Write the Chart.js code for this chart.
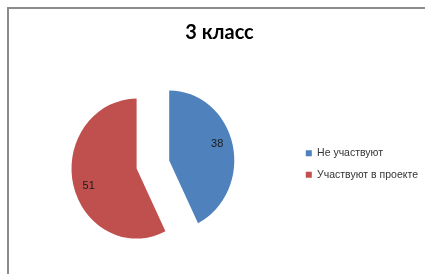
<!DOCTYPE html>
<html>
<head>
<meta charset="utf-8">
<script src="https://cdn.jsdelivr.net/npm/chart.js@4/dist/chart.umd.min.js"></script>
<style>
  html, body { margin: 0; padding: 0; background: #fff; }
  #wrap { position: relative; width: 425px; height: 274px; overflow: hidden; }
  #frame { position: absolute; left: 7px; top: 7px; width: 430px; height: 280px;
           border-left: 2px solid #8c8c8c; border-top: 2px solid #8c8c8c; box-sizing: border-box; }
  canvas { position: absolute; left: 0; top: 0; }
</style>
</head>
<body>
<div id="wrap">
  <div id="frame"></div>
  <canvas id="c" width="425" height="274"></canvas>
</div>
<script>
const titleText = "3 класс";
const categories = ["Не участвуют", "Участвуют в проекте"];
const values = [38, 51];
const colors = ["#4F81BD", "#C0504D"];

const SX = 0.93;      // horizontal squeeze of the pie, as in the reference
const EXPLODE = 18;   // pixel distance each slice is pulled out

// Pull every slice outward along its mid-angle (pure translation, radius unchanged)
const explodePlugin = {
  id: 'explode',
  beforeDatasetsDraw(chart) {
    chart.getDatasetMeta(0).data.forEach(arc => {
      if (arc._exploded) return;
      const orig = arc.draw;
      arc.draw = function (ctx, area) {
        const mid = (this.startAngle + this.endAngle) / 2;
        ctx.save();
        ctx.translate(this.x, 0);
        ctx.scale(SX, 1);
        ctx.translate(-this.x, 0);
        ctx.translate(Math.cos(mid) * EXPLODE, Math.sin(mid) * EXPLODE);
        orig.call(this, ctx, area);
        ctx.restore();
      };
      arc._exploded = true;
    });
  }
};

const labelPlugin = {
  id: 'sliceLabels',
  afterDatasetsDraw(chart) {
    const ctx = chart.ctx;
    const meta = chart.getDatasetMeta(0);
    ctx.save();
    ctx.font = '11px "Liberation Sans", Arial, sans-serif';
    ctx.fillStyle = '#1a1a1a';
    ctx.textAlign = 'center';
    ctx.textBaseline = 'middle';
    meta.data.forEach((arc, i) => {
      const mid = (arc.startAngle + arc.endAngle) / 2;
      const ox = arc.x + Math.cos(mid) * EXPLODE * SX;
      const oy = arc.y + Math.sin(mid) * EXPLODE;
      const la = mid - 5 * Math.PI / 180;
      const r = 0.775 * arc.outerRadius;
      ctx.fillText(String(values[i]), ox + Math.cos(la) * r * SX, oy + Math.sin(la) * r);
    });
    ctx.restore();
  }
};

new Chart(document.getElementById('c'), {
  type: 'pie',
  data: {
    labels: categories,
    datasets: [{
      data: values,
      backgroundColor: colors,
      borderWidth: 0,
      radius: 70
    }]
  },
  options: {
    responsive: false,
    animation: false,
    layout: { padding: { left: 11, right: -3, top: 0, bottom: 0 } },
    plugins: {
      title: {
        display: true,
        text: titleText,
        color: '#000',
        font: { family: 'Lato, "Liberation Sans", sans-serif', size: 20, weight: 'bold' },
        padding: { top: 21, bottom: 10 }
      },
      legend: {
        position: 'right',
        title: { display: true, text: ' ', font: { size: 1 }, padding: { top: 53, bottom: 0 } },
        labels: {
          boxWidth: 6,
          boxHeight: 6,
          padding: 11,
          color: '#333',
          font: { family: '"Liberation Sans", Arial, sans-serif', size: 10.5 }
        }
      },
      tooltip: { enabled: false }
    }
  },
  plugins: [explodePlugin, labelPlugin]
});
</script>
</body>
</html>
